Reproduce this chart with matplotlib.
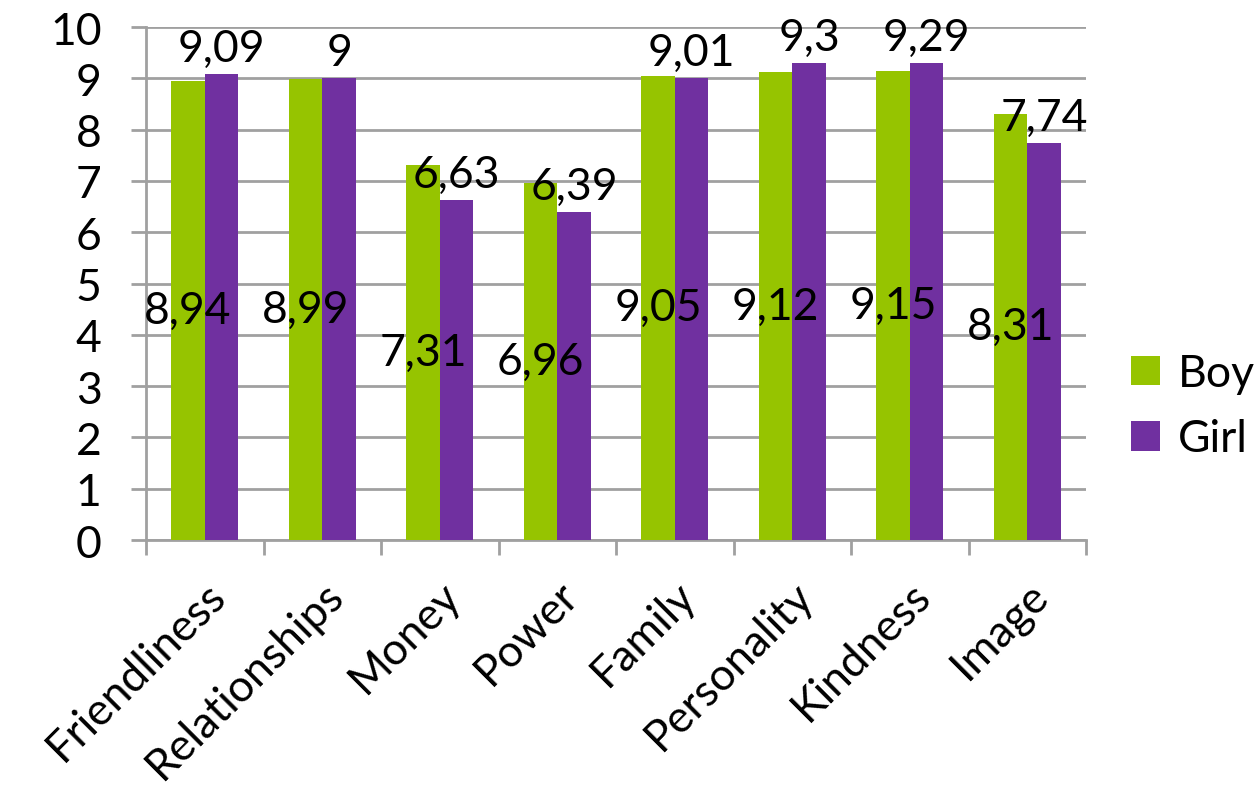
import numpy as np
import matplotlib
matplotlib.use("Agg")
import matplotlib.pyplot as plt

categories = ["Friendliness", "Relationships", "Money", "Power", "Family",
              "Personality", "Kindness", "Image"]
boy = [8.94, 8.99, 7.31, 6.96, 9.05, 9.12, 9.15, 8.31]
girl = [9.09, 9.00, 6.63, 6.39, 9.01, 9.30, 9.29, 7.74]

GREEN = "#96C400"
PURPLE = "#7030A0"
GRID = "#A0A0A0"
FS = 32

plt.rcParams["font.family"] = ["Lato", "DejaVu Sans"]


def fmt(v):
    s = f"{v:.2f}".rstrip("0").rstrip(".")
    return s.replace(".", ",")


fig = plt.figure(figsize=(12.59, 8.12), dpi=100)
ax = fig.add_axes([0.116, 0.3337, 0.7466, 0.6318])

x = np.arange(len(categories))
w = 0.285
ax.bar(x - w / 2, boy, w, color=GREEN, label="Boy", zorder=3)
ax.bar(x + w / 2, girl, w, color=PURPLE, label="Girl", zorder=3)

for xi, v in zip(x, boy):
    ax.text(xi - w / 2, v / 2, fmt(v), ha="center", va="center", fontsize=FS, zorder=4)
for xi, v in zip(x, girl):
    ax.text(xi + w / 2, v + 0.1, fmt(v), ha="center", va="bottom", fontsize=FS, zorder=4)

ax.set_xlim(-0.5, len(categories) - 0.5)
ax.set_ylim(0, 10)
ax.set_yticks(range(0, 11))
ax.yaxis.grid(True, color=GRID, linewidth=2, zorder=0)
ax.set_xticks(np.arange(-0.5, len(categories), 1.0))
ax.set_xticklabels([])
ax.set_xticks(x, minor=True)
ax.set_xticklabels(categories, minor=True, rotation=45, ha="right", va="top",
                   rotation_mode="anchor", fontsize=FS)
ax.tick_params(axis="x", which="minor", length=0, pad=24)
ax.tick_params(axis="x", which="major", length=11, width=2, color=GRID)
ax.tick_params(axis="y", length=11, width=2, color=GRID, pad=21, labelsize=FS)

for side in ["top", "right"]:
    ax.spines[side].set_visible(False)
for side in ["left", "bottom"]:
    ax.spines[side].set_color(GRID)
    ax.spines[side].set_linewidth(2)

fig.legend(loc="upper left", bbox_to_anchor=(1131 / 1259, 1 - 354 / 812), frameon=False,
           fontsize=FS, handlelength=0.65, handleheight=0.65, handletextpad=0.4,
           labelspacing=0.55, borderpad=0, borderaxespad=0)

fig.savefig("out.png", dpi=100)
